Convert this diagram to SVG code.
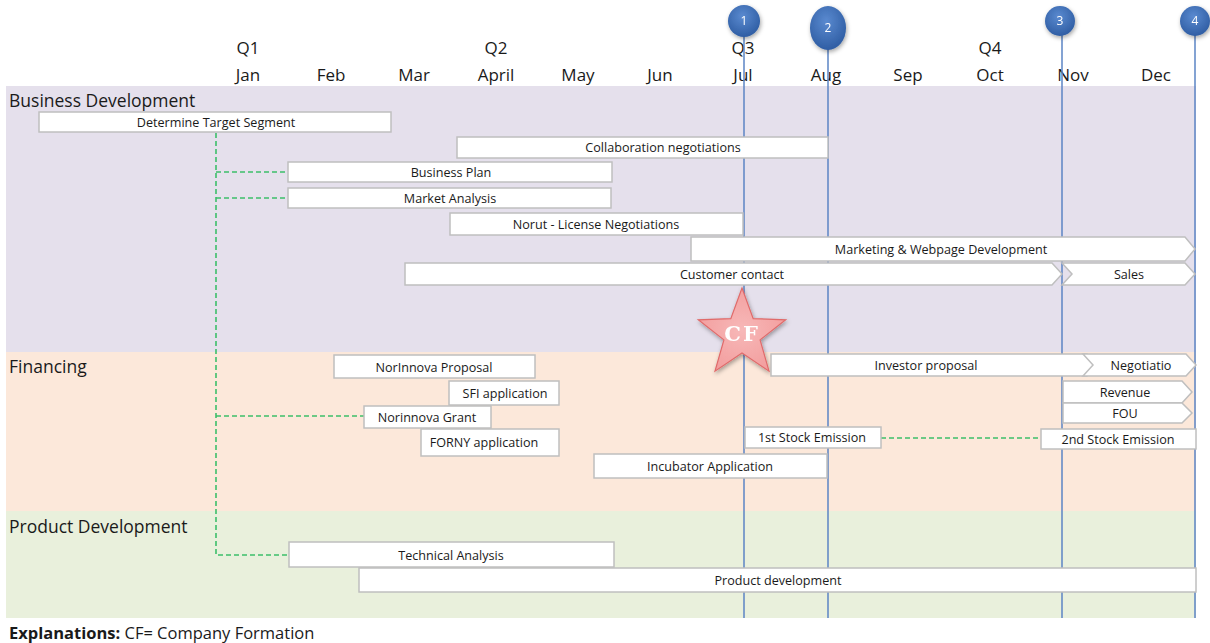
<svg xmlns="http://www.w3.org/2000/svg" width="1210" height="643" viewBox="0 0 1210 643">
  <style>
    .hdr { font-family: "Open Sans", "Liberation Sans", sans-serif; font-size: 17px; fill: #1a1a1a; text-anchor: middle; }
    .sec { font-family: "Open Sans", "Liberation Sans", sans-serif; font-size: 17.5px; fill: #1a1a1a; }
    .bar { fill: #ffffff; stroke: #bfbfbf; stroke-width: 1.5; }
    .lbl { font-family: "Open Sans", "Liberation Sans", sans-serif; font-size: 12.6px; fill: #1a1a1a; text-anchor: middle; }
    .ms { stroke: #5b84c4; stroke-width: 1.5; fill: none; }
    .num { font-family: "Open Sans", "Liberation Sans", sans-serif; font-size: 12px; fill: #ffffff; text-anchor: middle; }
    .dep { stroke: #3cbf6a; stroke-width: 1.6; stroke-dasharray: 5 3; fill: none; }
  </style>
  <defs>
    <radialGradient id="ball" cx="0.45" cy="0.35" r="0.7">
      <stop offset="0" stop-color="#5a8ad0"/>
      <stop offset="1" stop-color="#2c5aa0"/>
    </radialGradient>
    <radialGradient id="starFill" cx="0.5" cy="0.5" r="0.6">
      <stop offset="0" stop-color="#f7b8b8"/>
      <stop offset="1" stop-color="#f29b9b"/>
    </radialGradient>
    <filter id="shadow" x="-50%" y="-50%" width="200%" height="200%">
      <feDropShadow dx="1" dy="2" stdDeviation="2" flood-color="#000000" flood-opacity="0.35"/>
    </filter>
  </defs>

  <rect width="1210" height="643" fill="#ffffff"/>

  <!-- swimlane bands -->
  <g id="lanes">
    <rect x="6" y="86" width="1190" height="266" fill="#e5e0ec"/>
    <rect x="6" y="352" width="1190" height="159" fill="#fce8da"/>
    <rect x="6" y="511" width="1190" height="107" fill="#e9f0dc"/>
    <text class="sec" x="9" y="107">Business Development</text>
    <text class="sec" x="9" y="373">Financing</text>
    <text class="sec" x="9" y="533">Product Development</text>
  </g>

  <!-- quarter and month headings -->
  <g id="timeline">
    <text class="hdr" x="248" y="54">Q1</text>
    <text class="hdr" x="496" y="54">Q2</text>
    <text class="hdr" x="743" y="54">Q3</text>
    <text class="hdr" x="990" y="54">Q4</text>
    <text class="hdr" x="248" y="81">Jan</text>
    <text class="hdr" x="331" y="81">Feb</text>
    <text class="hdr" x="414" y="81">Mar</text>
    <text class="hdr" x="496" y="81">April</text>
    <text class="hdr" x="578" y="81">May</text>
    <text class="hdr" x="660" y="81">Jun</text>
    <text class="hdr" x="743" y="81">Jul</text>
    <text class="hdr" x="826" y="81">Aug</text>
    <text class="hdr" x="908" y="81">Sep</text>
    <text class="hdr" x="990" y="81">Oct</text>
    <text class="hdr" x="1073" y="81">Nov</text>
    <text class="hdr" x="1156" y="81">Dec</text>
  </g>

  <!-- milestone lines -->
  <g id="milestone-lines">
    <line class="ms" x1="744" y1="30" x2="744" y2="618"/>
    <line class="ms" x1="828" y1="40" x2="828" y2="618"/>
    <line class="ms" x1="1062" y1="30" x2="1062" y2="618"/>
    <line class="ms" x1="1195" y1="30" x2="1195" y2="618"/>
  </g>

  <!-- dependency connectors -->
  <g id="connectors">
    <path class="dep" d="M216,133 V555 H289"/>
    <path class="dep" d="M216,172 H288"/>
    <path class="dep" d="M216,198 H288"/>
    <path class="dep" d="M216,416 H364"/>
    <path class="dep" d="M881,438 H1041"/>
  </g>

  <!-- business development tasks -->
  <g id="determine-target-segment">
    <rect class="bar" x="39" y="112" width="352" height="20"/>
    <text class="lbl" x="216" y="127">Determine Target Segment</text>
  </g>
  <g id="collaboration-negotiations">
    <rect class="bar" x="457" y="137" width="371" height="21"/>
    <text class="lbl" x="663" y="152">Collaboration negotiations</text>
  </g>
  <g id="business-plan">
    <rect class="bar" x="288" y="162" width="324" height="20"/>
    <text class="lbl" x="451" y="177">Business Plan</text>
  </g>
  <g id="market-analysis">
    <rect class="bar" x="288" y="188" width="323" height="20"/>
    <text class="lbl" x="450" y="203">Market Analysis</text>
  </g>
  <g id="norut-license">
    <rect class="bar" x="450" y="213" width="293" height="22"/>
    <text class="lbl" x="596" y="229">Norut - License Negotiations</text>
  </g>
  <g id="marketing-webpage">
    <path class="bar" d="M691,237 H1185 L1195,249 L1185,261 H691 Z"/>
    <text class="lbl" x="941" y="253.5">Marketing &amp; Webpage Development</text>
  </g>
  <g id="customer-contact">
    <path class="bar" d="M405,263 H1052 L1062,274 L1052,285 H405 Z"/>
    <text class="lbl" x="732" y="278.5">Customer contact</text>
  </g>
  <g id="sales">
    <path class="bar" d="M1062,263 H1185 L1195,274 L1185,285 H1062 L1072,274 Z"/>
    <text class="lbl" x="1129" y="278.5">Sales</text>
  </g>

  <!-- company formation star -->
  <g id="company-formation" filter="url(#shadow)">
    <polygon points="742,288 753.2,318.6 785.7,319.8 760.1,339.9 769,371.2 742,353 715,371.2 723.9,339.9 698.3,319.8 730.8,318.6" fill="url(#starFill)" stroke="#e06b6b" stroke-width="1.2"/>
    <text x="742" y="341" font-family="'DejaVu Serif', 'Liberation Serif', serif" font-weight="bold" font-size="21" fill="#ffffff" text-anchor="middle" letter-spacing="2">CF</text>
  </g>

  <!-- financing tasks -->
  <g id="norinnova-proposal">
    <rect class="bar" x="334" y="355" width="201" height="23"/>
    <text class="lbl" x="434" y="371.5">NorInnova Proposal</text>
  </g>
  <g id="investor-proposal">
    <path class="bar" d="M771,354 H1087 L1097,365 L1087,376 H771 Z"/>
    <text class="lbl" x="926" y="369.5">Investor proposal</text>
  </g>
  <g id="negotiation">
    <path class="bar" d="M1083,354 H1186 L1196,365 L1186,376 H1083 L1093,365 Z"/>
    <text class="lbl" x="1141" y="369.5">Negotiatio</text>
  </g>
  <g id="sfi-application">
    <rect class="bar" x="449" y="381" width="110" height="24"/>
    <text class="lbl" x="505" y="397.5">SFI application</text>
  </g>
  <g id="revenue">
    <path class="bar" d="M1063,381 H1182 L1192,392 L1182,403 H1063 Z"/>
    <text class="lbl" x="1125" y="396.5">Revenue</text>
  </g>
  <g id="norinnova-grant">
    <rect class="bar" x="364" y="406" width="127" height="22"/>
    <text class="lbl" x="427" y="421.5">Norinnova Grant</text>
  </g>
  <g id="fou">
    <path class="bar" d="M1063,403 H1182 L1192,413 L1182,423 H1063 Z"/>
    <text class="lbl" x="1125" y="417.5">FOU</text>
  </g>
  <g id="forny-application">
    <rect class="bar" x="421" y="429" width="138" height="27"/>
    <text class="lbl" x="484" y="446.5">FORNY application</text>
  </g>
  <g id="first-stock-emission">
    <rect class="bar" x="745" y="427" width="136" height="21"/>
    <text class="lbl" x="812" y="442">1st Stock Emission</text>
  </g>
  <g id="second-stock-emission">
    <rect class="bar" x="1041" y="429" width="155" height="20"/>
    <text class="lbl" x="1118" y="443.5">2nd Stock Emission</text>
  </g>
  <g id="incubator-application">
    <rect class="bar" x="594" y="454" width="233" height="24"/>
    <text class="lbl" x="710" y="470.5">Incubator Application</text>
  </g>

  <!-- product development tasks -->
  <g id="technical-analysis">
    <rect class="bar" x="289" y="542" width="325" height="25"/>
    <text class="lbl" x="451" y="559.5">Technical Analysis</text>
  </g>
  <g id="product-development">
    <rect class="bar" x="359" y="568" width="837" height="24"/>
    <text class="lbl" x="778" y="584.5">Product development</text>
  </g>

  <!-- milestone markers -->
  <g id="milestone-1" filter="url(#shadow)">
    <circle cx="744" cy="21" r="16" fill="url(#ball)"/>
    <text class="num" x="744" y="25">1</text>
  </g>
  <g id="milestone-2" filter="url(#shadow)">
    <ellipse cx="828" cy="28" rx="18" ry="22" fill="url(#ball)"/>
    <text class="num" x="828" y="32">2</text>
  </g>
  <g id="milestone-3" filter="url(#shadow)">
    <circle cx="1060" cy="21" r="15" fill="url(#ball)"/>
    <text class="num" x="1060" y="25">3</text>
  </g>
  <g id="milestone-4" filter="url(#shadow)">
    <circle cx="1195" cy="21" r="15" fill="url(#ball)"/>
    <text class="num" x="1195" y="25">4</text>
  </g>

  <!-- legend -->
  <g id="legend">
    <text x="9" y="639" font-family="'Open Sans', 'Liberation Sans', sans-serif" font-size="16.5" fill="#1a1a1a"><tspan font-weight="bold">Explanations:</tspan>  CF= Company Formation</text>
  </g>
</svg>
